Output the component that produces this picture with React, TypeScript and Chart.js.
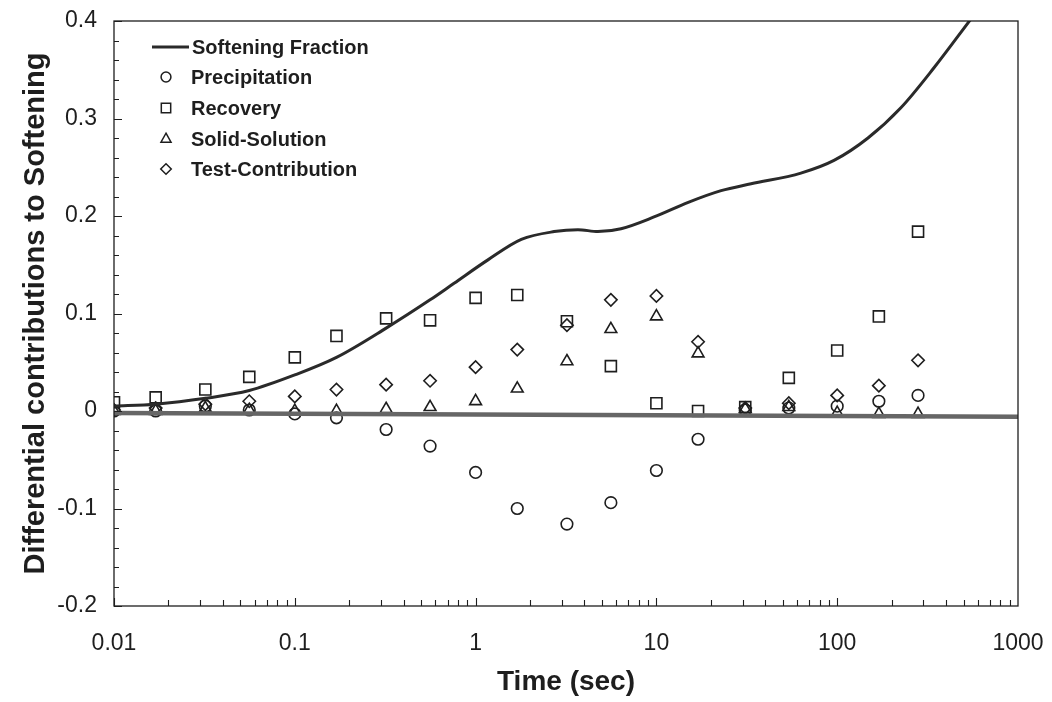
import React, { useEffect, useRef } from "react";
import { Chart, registerables } from "chart.js";

Chart.register(...registerables);

// ---- Data ----
const times = [0.01, 0.017, 0.032, 0.056, 0.1, 0.17, 0.32, 0.56, 1, 1.7, 3.2, 5.6, 10, 17, 31, 54, 100, 170, 280];
const precipitation = [0.0, 0.0, 0.005, 0.001, -0.003, -0.007, -0.019, -0.036, -0.063, -0.1, -0.116, -0.094, -0.061, -0.029, 0.001, 0.003, 0.005, 0.01, 0.016];
const recovery = [0.009, 0.014, 0.022, 0.035, 0.055, 0.077, 0.095, 0.093, 0.116, 0.119, 0.092, 0.046, 0.008, 0.0, 0.004, 0.034, 0.062, 0.097, 0.184];
const solidSolution = [0.0, 0.0, 0.003, 0.001, 0.0, 0.0, 0.002, 0.004, 0.01, 0.023, 0.051, 0.084, 0.097, 0.059, 0.002, 0.004, -0.002, -0.003, -0.003];
const testContribution = [0.001, 0.003, 0.007, 0.01, 0.015, 0.022, 0.027, 0.031, 0.045, 0.063, 0.088, 0.114, 0.118, 0.071, 0.003, 0.008, 0.016, 0.026, 0.052];

const curveTimes = [0.01, 0.017, 0.032, 0.056, 0.1, 0.17, 0.32, 0.56, 0.76, 1.17, 1.79, 2.72, 3.68, 4.75, 6.37, 9.7, 15, 22.8, 33.4, 63, 96, 148, 225, 343, 549];
const softeningFraction = [0.005, 0.007, 0.013, 0.021, 0.037, 0.055, 0.085, 0.114, 0.131, 0.155, 0.176, 0.184, 0.186, 0.184, 0.187, 0.199, 0.214, 0.226, 0.233, 0.244, 0.257, 0.28, 0.311, 0.352, 0.402];

const baselineTimes = [0.01, 1000];
const baselineValues = [-0.002, -0.006];

const seriesNames = ["Softening Fraction", "Precipitation", "Recovery", "Solid-Solution", "Test-Contribution"];
const xTickLabels = ["0.01", "0.1", "1", "10", "100", "1000"];
const yTickLabels = ["-0.2", "-0.1", "0", "0.1", "0.2", "0.3", "0.4"];
const xTitle = "Time (sec)";
const yTitle = "Differential contributions to Softening";

const FONT = "'Liberation Sans', Arial, Helvetica, sans-serif";
const INK = "#1e1e1e";

const pts = (xs: number[], ys: number[]) => xs.map((x, i) => ({ x, y: ys[i] }));

const markerStyles: { style: any; r: number }[] = [
  { style: "circle", r: 5.8 },
  { style: "rect", r: 7.8 },
  { style: "triangle", r: 6.8 },
  { style: "rectRot", r: 6.2 },
];

function drawMarker(ctx: CanvasRenderingContext2D, style: string, r: number, x: number, y: number) {
  ctx.beginPath();
  if (style === "circle") {
    ctx.arc(x, y, r, 0, Math.PI * 2);
  } else if (style === "rect") {
    const s = Math.SQRT1_2 * r;
    ctx.rect(x - s, y - s, 2 * s, 2 * s);
  } else if (style === "triangle") {
    ctx.moveTo(x, y - r);
    ctx.lineTo(x + r * 0.87, y + r * 0.55);
    ctx.lineTo(x - r * 0.87, y + r * 0.55);
    ctx.closePath();
  } else {
    ctx.moveTo(x, y - r);
    ctx.lineTo(x + r, y);
    ctx.lineTo(x, y + r);
    ctx.lineTo(x - r, y);
    ctx.closePath();
  }
  ctx.stroke();
}

const framePlugin = {
  id: "frameTicks",
  afterDatasetsDraw(chart: any) {
    const { ctx, chartArea: a, scales } = chart;
    const xs = scales.x;
    const ys = scales.y;
    ctx.save();
    ctx.strokeStyle = INK;
    ctx.lineWidth = 1.3;
    ctx.strokeRect(a.left, a.top, a.right - a.left, a.bottom - a.top);
    ctx.lineWidth = 1.1;
    ctx.beginPath();
    for (let i = 0; i <= 30; i++) {
      const v = -0.2 + i * 0.02;
      const py = Math.round(ys.getPixelForValue(v)) + 0.5;
      const len = i % 5 === 0 ? 8 : 5;
      ctx.moveTo(a.left, py);
      ctx.lineTo(a.left + len, py);
    }
    for (let e = -2; e < 3; e++) {
      for (let m = 1; m < 10; m++) {
        const v = m * Math.pow(10, e);
        const px = Math.round(xs.getPixelForValue(v)) + 0.5;
        const len = m === 1 ? 8 : 6;
        ctx.moveTo(px, a.bottom);
        ctx.lineTo(px, a.bottom - len);
      }
    }
    ctx.stroke();
    ctx.restore();
  },
  afterDraw(chart: any) {
    const { ctx } = chart;
    ctx.save();
    const rowY = [47, 77, 108, 139, 169];
    const markerX = 166;
    const textX = 192;
    ctx.font = `bold 20px ${FONT}`;
    ctx.textBaseline = "middle";
    ctx.textAlign = "left";
    ctx.strokeStyle = "#2a2a2a";
    ctx.lineWidth = 3;
    ctx.beginPath();
    ctx.moveTo(152, rowY[0]);
    ctx.lineTo(189, rowY[0]);
    ctx.stroke();
    ctx.fillStyle = INK;
    ctx.fillText(seriesNames[0], textX, rowY[0] + 1);
    for (let i = 1; i < 5; i++) {
      const ms = markerStyles[i - 1];
      ctx.strokeStyle = INK;
      ctx.lineWidth = 1.5;
      drawMarker(ctx, ms.style, ms.r * 0.85, markerX, rowY[i]);
      ctx.fillStyle = INK;
      ctx.fillText(seriesNames[i], textX - 1, rowY[i] + 1);
    }
    ctx.restore();
  },
};

export default function App() {
  const ref = useRef<HTMLCanvasElement | null>(null);

  useEffect(() => {
    if (!ref.current) return;
    const scatterSets = [precipitation, recovery, solidSolution, testContribution].map((vals, i) => ({
      type: "scatter" as const,
      label: seriesNames[i + 1],
      data: pts(times, vals),
      showLine: false,
      pointStyle: markerStyles[i].style,
      pointRadius: markerStyles[i].r,
      pointBorderWidth: 1.6,
      pointBorderColor: INK,
      pointBackgroundColor: "rgba(0,0,0,0)",
      borderColor: INK,
      backgroundColor: "rgba(0,0,0,0)",
    }));

    const chart = new Chart(ref.current, {
      type: "scatter",
      data: {
        datasets: [
          {
            type: "line" as const,
            label: "baseline",
            data: pts(baselineTimes, baselineValues),
            borderColor: "#666666",
            borderWidth: 4.5,
            pointRadius: 0,
            showLine: true,
            fill: false,
          },
          {
            type: "line" as const,
            label: seriesNames[0],
            data: pts(curveTimes, softeningFraction),
            borderColor: "#2a2a2a",
            borderWidth: 3,
            pointRadius: 0,
            showLine: true,
            fill: false,
            cubicInterpolationMode: "monotone" as const,
          },
          ...scatterSets,
        ] as any,
      },
      options: {
        responsive: false,
        animation: false,
        layout: { padding: { top: 21, right: 34, left: 0, bottom: 0 } },
        plugins: {
          legend: { display: false },
          tooltip: { enabled: false },
          title: { display: false },
        },
        scales: {
          x: {
            type: "logarithmic",
            min: 0.01,
            max: 1000,
            afterFit: (s: any) => {
              s.height = 96;
              s.paddingLeft = 0;
              s.paddingRight = 0;
            },
            grid: { display: false, drawTicks: false },
            border: { display: false },
            ticks: {
              autoSkip: false,
              maxRotation: 0,
              padding: 24,
              color: INK,
              font: { family: FONT, size: 23 },
              callback: (v: any) => {
                const lg = Math.log10(Number(v));
                const e = Math.round(lg);
                if (Math.abs(lg - e) < 1e-6) return xTickLabels[e + 2] ?? "";
                return "";
              },
            },
            title: {
              display: true,
              text: xTitle,
              color: INK,
              font: { family: FONT, size: 28, weight: "bold" },
              padding: { top: 0, bottom: 3 },
            },
          },
          y: {
            type: "linear",
            min: -0.2,
            max: 0.4,
            afterFit: (s: any) => {
              s.width = 114;
              s.paddingTop = 0;
              s.paddingBottom = 0;
            },
            grid: { display: false, drawTicks: false },
            border: { display: false },
            ticks: {
              stepSize: 0.1,
              padding: 17,
              color: INK,
              font: { family: FONT, size: 23 },
              callback: (v: any) => {
                const idx = Math.round((Number(v) + 0.2) / 0.1);
                return yTickLabels[idx] ?? "";
              },
            },
            title: {
              display: true,
              text: yTitle,
              color: INK,
              font: { family: FONT, size: 29, weight: "bold" },
              padding: { top: 19, bottom: 0 },
            },
          },
        },
      },
      plugins: [framePlugin],
    });
    return () => chart.destroy();
  }, []);

  return (
    <div style={{ position: "fixed", left: 0, top: 0, width: 1052, height: 702, background: "#fff" }}>
      <canvas ref={ref} width={1052} height={702} />
    </div>
  );
}
